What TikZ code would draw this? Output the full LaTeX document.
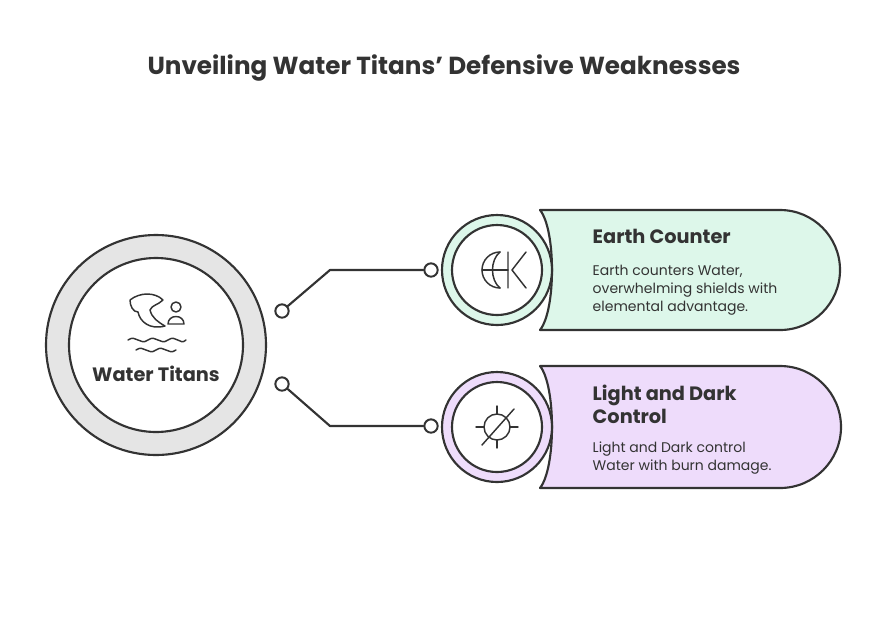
\documentclass[tikz,border=0pt]{standalone}
\usepackage{fontspec}
\setmainfont{Poppins}
\begin{document}
\begin{tikzpicture}[x=0.75pt,y=-0.75pt,line join=round,line cap=round,
  ink/.style={draw=black!80,line width=1.6pt},
  thin/.style={draw=black!80,line width=1.1pt},
  dot/.style={circle,draw=black!80,line width=1.5pt,fill=white,minimum size=10pt,inner sep=0pt},
  ttl/.style={font=\bfseries\fontsize{14.5}{17}\selectfont,text=black!80,anchor=west,align=left},
  body/.style={font=\fontsize{10.5}{13.8}\selectfont,text=black!80,anchor=north west,align=left}]
\useasboundingbox (0,0) rectangle (888,636);
\definecolor{mint}{HTML}{DDF7EA}\definecolor{lilac}{HTML}{EEDCFB}
\node[font=\bfseries\fontsize{18.5}{21}\selectfont,text=black!80] (title) at (444,68) {Unveiling Water Titans' Defensive Weaknesses};
% big circle
\draw[ink,fill=black!10] (156,345) circle (110);
\draw[ink,fill=white] (156,345) circle (87);
\node[font=\bfseries\fontsize{14.5}{17}\selectfont,text=black!80] (wt) at (156,374) {Water Titans};
% dragon icon
\draw[thin] (130,300) .. controls (140,292) and (155,292) .. (163,300) .. controls (158,305) and (152,305) .. (150,310) .. controls (152,318) and (158,322) .. (165,326) .. controls (150,330) and (140,322) .. (138,312) .. controls (133,312) and (130,306) .. (130,300);
\draw[thin] (176,307) circle (5);
\draw[thin] (168,324) .. controls (168,314) and (184,314) .. (184,324) -- cycle;
\draw[thin] (128,340) .. controls (136,334) and (140,346) .. (148,340) .. controls (156,334) and (160,346) .. (168,340) .. controls (176,334) and (180,346) .. (186,340);
\draw[thin] (136,350) .. controls (144,344) and (148,356) .. (156,350) .. controls (164,344) and (168,356) .. (176,350);
% pills
\draw[ink,fill=mint] (540,210) -- (780,210) arc (-90:90:60) -- (540,330) .. controls (556,310) and (556,230) .. (540,210) -- cycle;
\draw[ink,fill=mint] (497,270) circle (55);
\draw[ink,fill=white] (497,270) circle (45);
\draw[ink,fill=lilac] (540,366) -- (780,366) arc (-90:90:61) -- (540,488) .. controls (556,468) and (556,386) .. (540,366) -- cycle;
\draw[ink,fill=lilac] (497,427) circle (55);
\draw[ink,fill=white] (497,427) circle (45);
% icons
\draw[thin] (500,252) arc (-90:-270:18);
\draw[thin] (500,252) .. controls (490,260) and (490,280) .. (500,288);
\draw[thin] (482,270) -- (508,270);
\draw[thin] (508,252) -- (508,288) (526,252) -- (512,270) -- (526,288);
\draw[thin] (497,427) circle (13);
\draw[thin] (497,406) -- (497,414) (497,440) -- (497,448) (476,427) -- (484,427) (510,427) -- (518,427);
\draw[thin] (482,445) -- (514,409);
% texts
\node[ttl] (t1) at (588,236) {Earth Counter};
\node[body] (b1) at (588,260) {Earth counters Water,\\overwhelming shields with\\elemental advantage.};
\node[ttl] (t2) at (588,404) {Light and Dark\\Control};
\node[body] (b2) at (588,437) {Light and Dark control\\Water with burn damage.};
% connectors
\node[dot] (s1) at (282,311) {};
\node[dot] (e1) at (431,270) {};
\node[dot] (s2) at (282,384) {};
\node[dot] (e2) at (431,426) {};
\coordinate (k1) at (330,270);
\coordinate (k2) at (330,426);
\draw[ink] (s1) -- (k1) -- (e1);
\draw[ink] (s2) -- (k2) -- (e2);
\end{tikzpicture}
\end{document}
